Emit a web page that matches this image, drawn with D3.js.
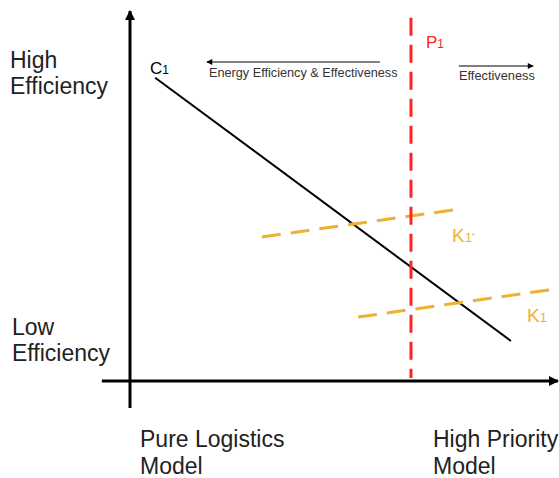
<!DOCTYPE html>
<html>
<head>
<meta charset="utf-8">
<script src="https://cdn.jsdelivr.net/npm/d3@7"></script>
<style>
  body { margin: 0; background: #fff; }
  text { font-family: "Liberation Sans", Arial, sans-serif; }
</style>
</head>
<body>
<div id="chart"></div>
<script>
// Chart size
var svgWidth = 559;
var svgHeight = 478;

// Lines in chart units (x: 0-100, y: 0-100)
var curveC = [[6, 84], [90.7, 11.1]];
var lineP = [[66.9, 100.6], [66.9, 0.8]];
var lineK1p = [[31.4, 39.9], [78.3, 47.6]];
var lineK1 = [[54.3, 17.7], [101.4, 25.5]];

// Axis labels
var yLabels = [["High", "Efficiency"], ["Low", "Efficiency"]];
var xLabels = [["Pure Logistics", "Model"], ["High Priority", "Model"]];

var x = d3.scaleLinear().domain([0, 100]).range([130, 550]);
var y = d3.scaleLinear().domain([0, 100]).range([381, 20]);

var svg = d3.select("#chart")
    .append("svg")
    .attr("width", svgWidth)
    .attr("height", svgHeight);

var defs = svg.append("defs");
function arrowMarker(id, w, h) {
    defs.append("marker")
        .attr("id", id)
        .attr("viewBox", "0 0 10 10")
        .attr("refX", 9).attr("refY", 5)
        .attr("markerUnits", "userSpaceOnUse")
        .attr("markerWidth", w).attr("markerHeight", h)
        .attr("orient", "auto")
        .append("path")
        .attr("d", "M0,0 L10,5 L0,10 Z")
        .attr("fill", "#000");
}
arrowMarker("bigArrow", 12, 10);
arrowMarker("smallArrow", 9, 6);

var line = d3.line().x(d => x(d[0])).y(d => y(d[1]));

// axes
svg.append("line")
    .attr("x1", x(0)).attr("y1", y(-7.5))
    .attr("x2", x(0)).attr("y2", y(102.5))
    .attr("stroke", "#000").attr("stroke-width", 3)
    .attr("marker-end", "url(#bigArrow)");
svg.append("line")
    .attr("x1", x(-6.7)).attr("y1", y(0))
    .attr("x2", x(101.9)).attr("y2", y(0))
    .attr("stroke", "#000").attr("stroke-width", 3)
    .attr("marker-end", "url(#bigArrow)");

// C1 line
svg.append("path").datum(curveC)
    .attr("d", line)
    .attr("fill", "none").attr("stroke", "#000").attr("stroke-width", 2);

// K lines (orange dashed)
[lineK1p, lineK1].forEach(function (d) {
    svg.append("path").datum(d)
        .attr("d", line)
        .attr("fill", "none").attr("stroke", "#f2b032")
        .attr("stroke-width", 3).attr("stroke-dasharray", "19,10");
});

// P1 line (red dashed)
svg.append("path").datum(lineP)
    .attr("d", line)
    .attr("fill", "none").attr("stroke", "#ff2323")
    .attr("stroke-width", 3).attr("stroke-dasharray", "18,9");

// direction arrows
svg.append("line")
    .attr("x1", x(59.5)).attr("y1", 62).attr("x2", x(18.3)).attr("y2", 62)
    .attr("stroke", "#000").attr("stroke-width", 1)
    .attr("marker-end", "url(#smallArrow)");
svg.append("text").attr("x", 209).attr("y", 77)
    .attr("font-size", "12.7px").attr("fill", "#333")
    .text("Energy Efficiency & Effectiveness");
svg.append("line")
    .attr("x1", x(78.3)).attr("y1", 66).attr("x2", x(96)).attr("y2", 66)
    .attr("stroke", "#000").attr("stroke-width", 1)
    .attr("marker-end", "url(#smallArrow)");
svg.append("text").attr("x", 459).attr("y", 80)
    .attr("font-size", "12.8px").attr("fill", "#333")
    .text("Effectiveness");

// line labels with subscripts
function subLabel(px, py, main, sub, color, size) {
    var t = svg.append("text").attr("x", px).attr("y", py)
        .attr("font-size", size + "px").attr("fill", color);
    t.append("tspan").text(main);
    t.append("tspan").attr("font-size", (size * 0.7) + "px").text(sub);
}
subLabel(150, 74, "C", "1", "#000", 17);
subLabel(426, 48, "P", "1", "#ff2323", 17);
subLabel(452, 242, "K", "1'", "#f2b032", 19);
subLabel(527, 322, "K", "1", "#f2b032", 19);

// axis end labels
var yPos = [[10, 68], [12, 335]];
yLabels.forEach(function (lab, i) {
    svg.append("text").attr("x", yPos[i][0]).attr("y", yPos[i][1])
        .attr("font-size", "23px").attr("fill", "#222")
        .selectAll("tspan").data(lab).enter().append("tspan")
        .attr("x", yPos[i][0]).attr("dy", (d, j) => j ? 26 : 0)
        .text(d => d);
});
var xPos = [[140, 447], [433, 447]];
xLabels.forEach(function (lab, i) {
    svg.append("text").attr("x", xPos[i][0]).attr("y", xPos[i][1])
        .attr("font-size", "23px").attr("fill", "#222")
        .selectAll("tspan").data(lab).enter().append("tspan")
        .attr("x", xPos[i][0]).attr("dy", (d, j) => j ? 27 : 0)
        .text(d => d);
});
</script>
</body>
</html>
